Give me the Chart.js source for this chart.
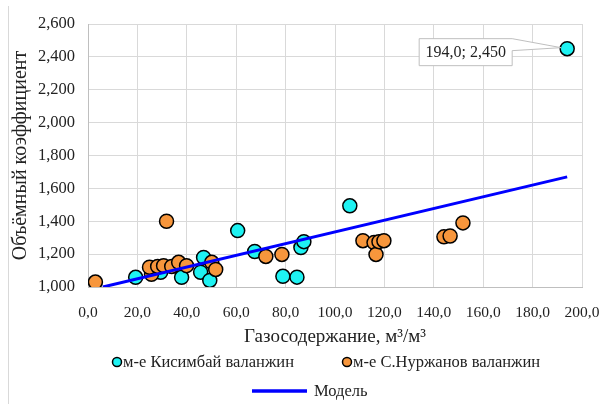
<!DOCTYPE html>
<html>
<head>
<meta charset="utf-8">
<script src="https://cdn.jsdelivr.net/npm/chart.js@4"></script>
<style>
  html, body { margin: 0; padding: 0; background: #fff; }
  #wrap { width: 599px; height: 404px; position: relative; }
</style>
</head>
<body>
<div id="wrap"><canvas id="myChart" width="599" height="404"></canvas></div>
<script>
// м-е Кисимбай валанжин
const kisX = [19.3, 29.4, 37.9, 46.8, 45.6, 49.3, 60.6, 67.5, 78.9, 84.6, 86.2, 87.4, 106.0, 194.0]
const kisY = [1.059, 1.089, 1.059, 1.180, 1.090, 1.040, 1.343, 1.216, 1.065, 1.060, 1.240, 1.276, 1.494, 2.450]

// м-е С.Нуржанов валанжин
const nurX = [3.0, 31.8, 25.7, 24.9, 28.2, 30.6, 33.9, 36.7, 39.9, 50.1, 51.7, 72.0, 78.5, 111.3, 115.8, 116.6, 117.8, 119.8, 144.1, 146.6, 151.8]
const nurY = [1.030, 1.400, 1.077, 1.120, 1.125, 1.130, 1.125, 1.150, 1.130, 1.150, 1.107, 1.186, 1.198, 1.282, 1.270, 1.198, 1.276, 1.282, 1.305, 1.310, 1.390]

// Модель
const modelX = [6.0, 194.0]
const modelY = [1.0, 1.67]

const xTicks = [0, 20, 40, 60, 80, 100, 120, 140, 160, 180, 200]
const yTicks = [1.0, 1.2, 1.4, 1.6, 1.8, 2.0, 2.2, 2.4, 2.6]

const labelIndex = kisX.length - 1  // точка с подписью

const toPts = (xs, ys) => xs.map((x, i) => ({ x: x, y: ys[i] }))
const serif = '"Liberation Serif", "Times New Roman", serif'

// подпись точки + легенда + рамка
const extras = {
    id: 'extras',
    afterDatasetsDraw(chart) {
        const c = chart.ctx
        const xs = chart.scales.x, ys = chart.scales.y
        const px = xs.getPixelForValue(kisX[labelIndex])
        const py = ys.getPixelForValue(kisY[labelIndex])
        const txt = kisX[labelIndex].toFixed(1).replace('.', ',') + '; ' + kisY[labelIndex].toFixed(3).replace('.', ',')
        c.save()
        c.font = '16px ' + serif
        const w = 93
        const bx = px - 148, by = py - 10, bh = 27
        c.fillStyle = '#fff'
        c.strokeStyle = '#bfbfbf'
        c.lineWidth = 1
        c.beginPath()
        c.moveTo(bx, by)
        c.lineTo(bx + w, by)
        c.lineTo(px - 6, py - 1)
        c.lineTo(bx + w, by + 12)
        c.lineTo(bx + w, by + bh)
        c.lineTo(bx, by + bh)
        c.closePath()
        c.fill()
        c.stroke()
        c.fillStyle = '#222'
        c.textBaseline = 'middle'
        c.textAlign = 'center'
        c.fillText(txt, bx + w / 2, by + bh / 2 + 1)
        c.restore()
    },
    afterDraw(chart) {
        const c = chart.ctx
        c.save()
        // рамка слева
        c.strokeStyle = '#d9d9d9'
        c.lineWidth = 1
        c.beginPath()
        c.moveTo(8.5, 6)
        c.lineTo(8.5, 404)
        c.stroke()

        c.font = '16.5px ' + serif
        c.textBaseline = 'middle'
        c.fillStyle = '#222'
        const items = [
            { ds: 0, x: 117, y: 362 },
            { ds: 1, x: 347, y: 362 },
        ]
        items.forEach(it => {
            const d = chart.data.datasets[it.ds]
            c.beginPath()
            c.arc(it.x, it.y, 4.5, 0, Math.PI * 2)
            c.fillStyle = d.backgroundColor
            c.fill()
            c.lineWidth = 1.5
            c.strokeStyle = '#000'
            c.stroke()
            c.fillStyle = '#222'
            c.fillText(d.label, it.x + 6, it.y + 1)
        })
        const m = chart.data.datasets[2]
        c.beginPath()
        c.moveTo(252, 391)
        c.lineTo(307, 391)
        c.strokeStyle = m.borderColor
        c.lineWidth = 3.5
        c.stroke()
        c.fillText(m.label, 314, 392)
        c.restore()
    }
}

const ctx = document.getElementById('myChart')
new Chart(ctx, {
    type: 'scatter',
    data: {
        datasets: [{
            label: 'м-е Кисимбай валанжин',
            data: toPts(kisX, kisY),
            backgroundColor: '#1ef2f2',
            borderColor: '#000',
            borderWidth: 1.5,
            pointRadius: 7,
            order: 3
        }, {
            label: 'м-е С.Нуржанов валанжин',
            data: toPts(nurX, nurY),
            backgroundColor: '#f7963c',
            borderColor: '#000',
            borderWidth: 1.5,
            pointRadius: 7,
            order: 2
        }, {
            label: 'Модель',
            type: 'line',
            data: toPts(modelX, modelY),
            borderColor: '#0000ff',
            backgroundColor: '#0000ff',
            borderWidth: 3,
            pointRadius: 0,
            fill: false,
            order: 1
        }]
    },
    options: {
        responsive: false,
        animation: false,
        layout: { padding: { left: 0, right: 17, top: 24, bottom: 52 } },
        plugins: {
            legend: { display: false },
            tooltip: { enabled: false }
        },
        scales: {
            x: {
                type: 'linear',
                min: 0,
                max: 200,
                afterBuildTicks: s => { s.ticks = xTicks.map(v => ({ value: v })) },
                afterFit: s => { s.height = 65; s.paddingLeft = 0; s.paddingRight = 0 },
                grid: { color: '#d9d9d9', drawTicks: false },
                border: { color: '#bfbfbf' },
                ticks: {
                    padding: 17,
                    color: '#222',
                    font: { family: serif, size: 15.5 },
                    callback: v => v.toFixed(1).replace('.', ','),
                    maxRotation: 0
                },
                title: {
                    display: true,
                    text: 'Газосодержание, м³/м³',
                    color: '#222',
                    font: { family: serif, size: 19 },
                    padding: { top: 0, bottom: 4 }
                }
            },
            y: {
                type: 'linear',
                min: 1.0,
                max: 2.6,
                afterBuildTicks: s => { s.ticks = yTicks.map(v => ({ value: v })) },
                afterFit: s => { s.width = 88; s.paddingTop = 0; s.paddingBottom = 0 },
                grid: { color: '#d9d9d9', drawTicks: false },
                border: { color: '#bfbfbf' },
                ticks: {
                    padding: 13,
                    color: '#222',
                    font: { family: serif, size: 16.5 },
                    callback: v => v.toFixed(3).replace('.', ',')
                },
                title: {
                    display: true,
                    text: 'Объёмный коэффициент',
                    color: '#222',
                    font: { family: serif, size: 20 },
                    padding: { top: 9, bottom: 0 }
                }
            }
        }
    },
    plugins: [extras]
})
</script>
</body>
</html>
